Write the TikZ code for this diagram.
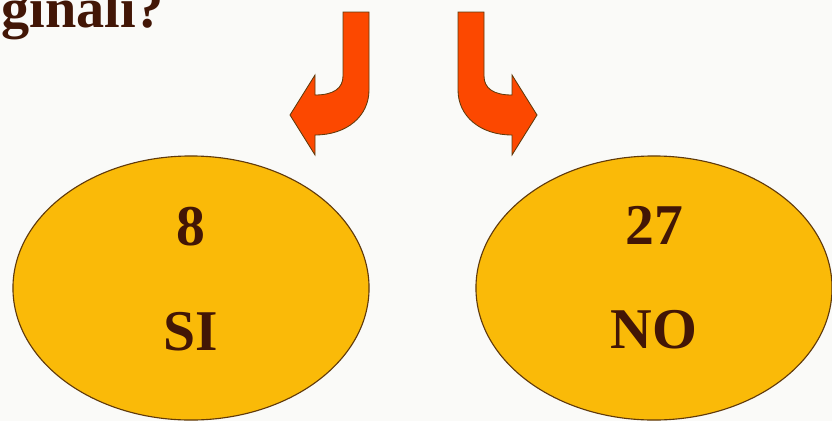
\documentclass[tikz,border=0pt]{standalone}
\usepackage{fontspec}
\setmainfont{Liberation Serif}
\usetikzlibrary{shapes.geometric,positioning}
\definecolor{ink}{RGB}{66,22,6}
\definecolor{gold}{RGB}{250,186,8}
\definecolor{flame}{RGB}{252,72,0}
\definecolor{rim}{RGB}{96,58,12}
\definecolor{paper}{RGB}{250,250,248}
\tikzset{
    answer/.style={ellipse,draw=rim,fill=gold,line width=0.8pt,minimum width=8.9cm,minimum height=6.6cm,inner sep=0pt},
    tally/.style={font=\fontsize{41}{41}\selectfont\bfseries,text=ink,inner sep=0pt},
    heading/.style={font=\fontsize{40}{40}\selectfont\bfseries,text=ink,inner sep=0pt},
    bentarrow/.pic={
        \filldraw[fill=flame,draw=rim,line width=0.6pt]
            (343,12) -- (369,12) -- (369,90)
            .. controls (369,116) and (347,135) .. (315,135)
            -- (315,155) -- (290,115) -- (315,75) -- (315,95)
            .. controls (334,95) and (343,88) .. (343,76) -- cycle;
    }
}

\begin{document}
\begin{tikzpicture}[x=0.025cm,y=-0.025cm]

    \useasboundingbox (0,0) rectangle (832,421);
    \clip (0,0) rectangle (832,421);
    \fill[paper] (0,0) rectangle (832,421);

    \node[heading,anchor=base west] (question) at (1,27) {ginali?};

    \pic at (0,0) {bentarrow};
    \pic[xscale=-1] at (827,0) {bentarrow};

    \node[answer] (si) at (191,288) {};
    \node[tally]  (si count) at ([yshift=1.525cm]si.center) {8};
    \node[tally]  (si label) at ([yshift=-1.1cm]si.center)  {SI};

    \node[answer] (no) at (654,288) {};
    \node[tally]  (no count) at ([yshift=1.575cm]no.center) {27};
    \node[tally]  (no label) at ([yshift=-1.05cm]no.center) {NO};

\end{tikzpicture}
\end{document}
